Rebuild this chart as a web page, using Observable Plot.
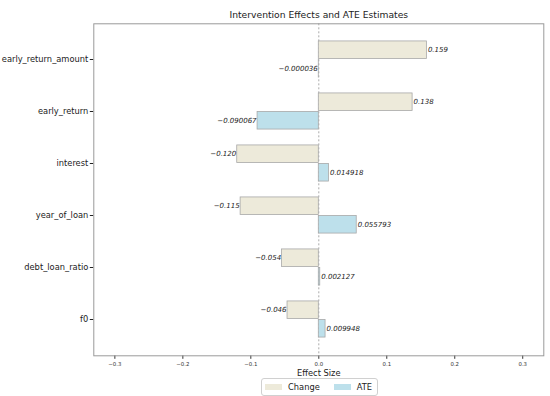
<!DOCTYPE html>
<html>
<head>
<meta charset="utf-8">
<script src="https://cdn.jsdelivr.net/npm/d3@7"></script>
<script src="https://cdn.jsdelivr.net/npm/@observablehq/plot@0.6"></script>
<style>
  html, body { margin: 0; padding: 0; background: #fff; }
  body { width: 550px; height: 396px; position: relative; overflow: hidden; font-family: "DejaVu Sans", sans-serif; }
  #legend { position: absolute; left: 261px; top: 378px; height: 16px; border: 1px solid #d0d0d0; border-radius: 3px;
            display: flex; align-items: center; padding: 0 5px 0 3px; font-size: 8.3px; color: #222; background: #fff; }
  #legend .sw { width: 17px; height: 5.5px; margin-right: 6px; }
  #legend .item { display: flex; align-items: center; }
  #legend .item + .item { margin-left: 14px; }
</style>
</head>
<body>
<div id="chart"></div>
<div id="legend"></div>
<script>
const categories = ["early_return_amount", "early_return", "interest", "year_of_loan", "debt_loan_ratio", "f0"];
const changeValues = [0.159, 0.138, -0.120, -0.115, -0.054, -0.046];
const ateValues = [-0.000036, -0.090067, 0.014918, 0.055793, 0.002127, 0.009948];
const xTicks = [-0.3, -0.2, -0.1, 0, 0.1, 0.2, 0.3];
const seriesNames = ["Change", "ATE"];
const seriesColors = ["#edeada", "#bde0eb"];
const titleText = "Intervention Effects and ATE Estimates";
const xLabel = "Effect Size";

const changeRows = categories.map((c, i) => ({category: c, value: changeValues[i], label: d3.format(".3f")(changeValues[i])}));
const ateRows = categories.map((c, i) => ({category: c, value: ateValues[i], label: d3.format(".6f")(ateValues[i])}));

const W = 550, H = 378;
const mTop = 23.3, mBottom = H - 355.3, mLeft = 93.3, mRight = W - 543.3;
const step = (H - mTop - mBottom) / (6 + 2 * 0.137);
const barH = 0.35 * step;
const half = step / 2;

const labelStyle = {fontSize: 7, fontStyle: "italic", fill: "#222"};

const chart = Plot.plot({
  width: W,
  height: H,
  marginTop: mTop,
  marginBottom: mBottom,
  marginLeft: mLeft,
  marginRight: mRight,
  style: {fontFamily: "DejaVu Sans, sans-serif", background: "#fff"},
  x: {domain: [-0.331, 0.331]},
  y: {domain: categories, paddingInner: 0, paddingOuter: 0.137},
  marks: [
    Plot.ruleX([0], {stroke: "#888", strokeWidth: 0.7, strokeDasharray: "2,2"}),
    Plot.barX(changeRows, {y: "category", x1: 0, x2: "value", fill: seriesColors[0], stroke: "#a8a8a8", strokeWidth: 0.8,
      insetTop: half - barH, insetBottom: half}),
    Plot.barX(ateRows, {y: "category", x1: 0, x2: "value", fill: seriesColors[1], stroke: "#a8a8a8", strokeWidth: 0.8,
      insetTop: half, insetBottom: half - barH}),
    Plot.text(changeRows.filter(d => d.value >= 0), {y: "category", x: "value", text: "label", textAnchor: "start", dx: 1, dy: -barH / 2, ...labelStyle}),
    Plot.text(changeRows.filter(d => d.value < 0), {y: "category", x: "value", text: "label", textAnchor: "end", dx: -1, dy: -barH / 2, ...labelStyle}),
    Plot.text(ateRows.filter(d => d.value >= 0), {y: "category", x: "value", text: "label", textAnchor: "start", dx: 1, dy: barH / 2, ...labelStyle}),
    Plot.text(ateRows.filter(d => d.value < 0), {y: "category", x: "value", text: "label", textAnchor: "end", dx: -1, dy: barH / 2, ...labelStyle}),
    Plot.axisY({tickSize: 3.5, tickPadding: 2, fontSize: 8.3, label: null, color: "#222"}),
    Plot.axisX({ticks: xTicks, tickSize: 3.5, tickPadding: 2.5, fontSize: 5.4, label: null, color: "#333",
      tickFormat: d => d3.format(".1f")(d)}),
    Plot.frame({stroke: "#9a9a9a", strokeWidth: 1}),
    Plot.text([titleText], {frameAnchor: "top", dy: -12.3, fontSize: 9.2, fill: "#222"}),
    Plot.text([xLabel], {frameAnchor: "bottom", dy: 19.7, fontSize: 8.3, fill: "#222"})
  ]
});
document.getElementById("chart").appendChild(chart);

const legend = document.getElementById("legend");
seriesNames.forEach((name, i) => {
  const item = document.createElement("div");
  item.className = "item";
  const sw = document.createElement("div");
  sw.className = "sw";
  sw.style.background = seriesColors[i];
  const t = document.createElement("span");
  t.textContent = name;
  item.appendChild(sw);
  item.appendChild(t);
  legend.appendChild(item);
});
</script>
</body>
</html>
